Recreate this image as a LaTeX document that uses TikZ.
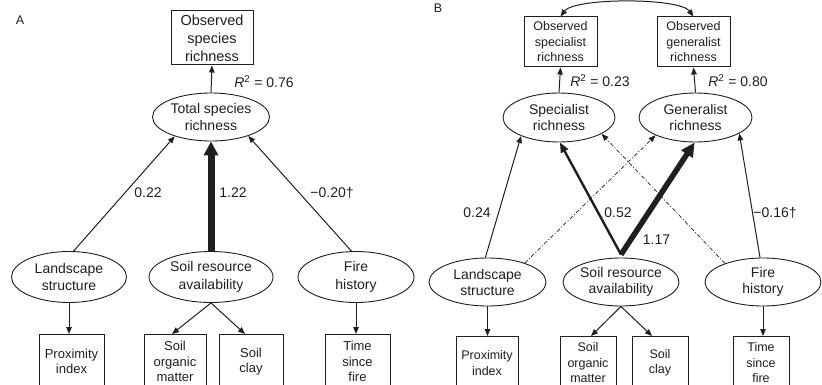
\documentclass[tikz,border=0pt]{standalone}
\usepackage{fontspec}
\setmainfont{Liberation Sans}
\usetikzlibrary{arrows.meta,shapes.geometric}
\definecolor{ink}{gray}{0.12}
\begin{document}
\begin{tikzpicture}[x=1pt,y=-1pt,
  every node/.style={text=ink, align=center, inner sep=0pt},
  ell/.style={draw=ink, line width=0.9pt, ellipse, font=\fontsize{14}{17.5}\selectfont},
  ellb/.style={draw=ink, line width=0.9pt, ellipse, font=\fontsize{14}{16}\selectfont},
  boxA/.style={draw=ink, line width=1pt, rectangle, font=\fontsize{14.5}{18}\selectfont},
  boxB/.style={draw=ink, line width=1pt, rectangle, font=\fontsize{12.5}{15.5}\selectfont},
  botA/.style={draw=ink, line width=0.9pt, rectangle, anchor=north, minimum height=54pt, font=\fontsize{13}{15.5}\selectfont},
  botB/.style={draw=ink, line width=0.9pt, rectangle, anchor=north, minimum height=53pt, font=\fontsize{12.5}{15.5}\selectfont},
  lab/.style={font=\fontsize{14}{16}\selectfont},
  panel/.style={font=\fontsize{12.5}{14}\selectfont},
  arr/.style={draw=ink, line width=1pt, -{Triangle[length=7pt,width=5.5pt]}},
  dd/.style={draw=ink, line width=0.7pt, dash pattern=on 4pt off 2pt on 1pt off 2pt, -{Triangle[length=7pt,width=5.5pt]}},
  thickA/.style={draw=ink, line width=7pt, -{Triangle[length=14pt,width=14pt]}},
  medB/.style={draw=ink, line width=2.4pt, -{Triangle[length=10pt,width=8pt]}},
  thickB/.style={draw=ink, line width=5.5pt, -{Triangle[length=14pt,width=13pt]}}
]
\useasboundingbox (0,0) rectangle (822,385);
\clip (0,0) rectangle (822,385);

% ---------------- Panel A ----------------
\node[panel] (pA) at (20,20.5) {A};
\node[boxA, minimum width=82pt, minimum height=54pt] (osr) at (212,38) {Observed\\species\\richness};
\node[ell, minimum width=117pt, minimum height=48pt] (tsr) at (211,117) {Total species\\richness};
\node[ell, minimum width=115pt, minimum height=51pt] (lsA) at (69,277) {Landscape\\structure};
\node[ell, minimum width=124pt, minimum height=51pt] (soA) at (211,277) {Soil resource\\availability};
\node[ell, minimum width=116pt, minimum height=51pt] (fiA) at (356,277) {Fire\\history};
\node[botA, minimum width=65pt] (pxA) at (71.5,334) {Proximity\\index};
\node[botA, minimum width=62pt] (somA) at (175,334) {Soil\\organic\\matter};
\node[botA, minimum width=64pt] (clA) at (251,334) {Soil\\clay};
\node[botA, minimum width=65pt] (tfA) at (357.5,334) {Time\\since\\fire};

\node[lab] (r2A) at (264,82) {\textit{R}\textsuperscript{2} = 0.76};
\node[lab] (cA1) at (148,193) {0.22};
\node[lab] (cA2) at (233,193) {1.22};
\node[lab] (cA3) at (332,193) {−0.20†};

\draw[arr] (tsr.north) -- (osr.south);
\draw[arr] (lsA.80) -- (tsr.208.8);
\draw[arr] (fiA.100) -- (tsr.-27);
\draw[thickA] (soA.north) -- (tsr.south);
\draw[arr] (lsA.south) -- (lsA.south |- pxA.north);
\draw[arr] (soA.south) -- ([xshift=-3pt]somA.north);
\draw[arr] (soA.south) -- ([xshift=-6pt]clA.north);
\draw[arr] (fiA.south) -- (fiA.south |- tfA.north);

% ---------------- Panel B ----------------
\node[panel] (pB) at (438,8.5) {B};
\node[boxB, minimum width=73pt, minimum height=50pt] (osB) at (560.5,42) {Observed\\specialist\\richness};
\node[boxB, minimum width=73pt, minimum height=50pt] (ogB) at (693.5,42) {Observed\\generalist\\richness};
\node[ellb, minimum width=112pt, minimum height=49pt] (spB) at (559,117.5) {Specialist\\richness};
\node[ellb, minimum width=113pt, minimum height=49pt] (geB) at (695.5,117.5) {Generalist\\richness};
\node[ellb, minimum width=117pt, minimum height=48pt] (lsB) at (487.5,282) {Landscape\\structure};
\node[ellb, minimum width=116pt, minimum height=48pt] (soB) at (621,282) {Soil resource\\availability};
\node[ellb, minimum width=116pt, minimum height=48pt] (fiB) at (763,282) {Fire\\history};
\node[botB, minimum width=62pt] (pxB) at (487,336) {Proximity\\index};
\node[botB, minimum width=56pt] (somB) at (588,336) {Soil\\organic\\matter};
\node[botB, minimum width=56pt] (clB) at (660,336) {Soil\\clay};
\node[botB, minimum width=56pt] (tfB) at (761,336) {Time\\since\\fire};

\node[lab] (r2B1) at (600,81) {\textit{R}\textsuperscript{2} = 0.23};
\node[lab] (r2B2) at (738,81) {\textit{R}\textsuperscript{2} = 0.80};
\node[lab] (cB1) at (477,213) {0.24};
\node[lab] (cB2) at (618,213) {0.52};
\node[lab] (cB3) at (656.5,240) {1.17};
\node[lab] (cB4) at (775,213) {−0.16†};

\draw[draw=ink, line width=1pt, {Triangle[length=7pt,width=5.5pt]}-{Triangle[length=7pt,width=5.5pt]}]
  (osB.north) .. controls +(14,-19) and +(-14,-19) .. (ogB.north);
\draw[arr] (spB.north) -- (osB.south);
\draw[arr] (geB.north) -- (ogB.south);

\coordinate (sotop) at ([yshift=3pt]soB.north);
\draw[arr] (lsB.95) -- (spB.206.6);
\draw[dd] (lsB.27.8) -- (geB.204.8);
\draw[medB] (sotop) -- (spB.-88);
\draw[thickB] (sotop) -- (geB.-92);
\draw[dd] (fiB.154) -- (spB.-21.8);
\draw[arr] (fiB.97) -- (geB.-20);

\draw[arr] (lsB.south) -- (lsB.south |- pxB.north);
\draw[arr] (soB.south) -- ([xshift=3pt]somB.north);
\draw[arr] (soB.south) -- ([xshift=-8pt]clB.north);
\draw[arr] (fiB.south) -- (fiB.south |- tfB.north);
\end{tikzpicture}
\end{document}
